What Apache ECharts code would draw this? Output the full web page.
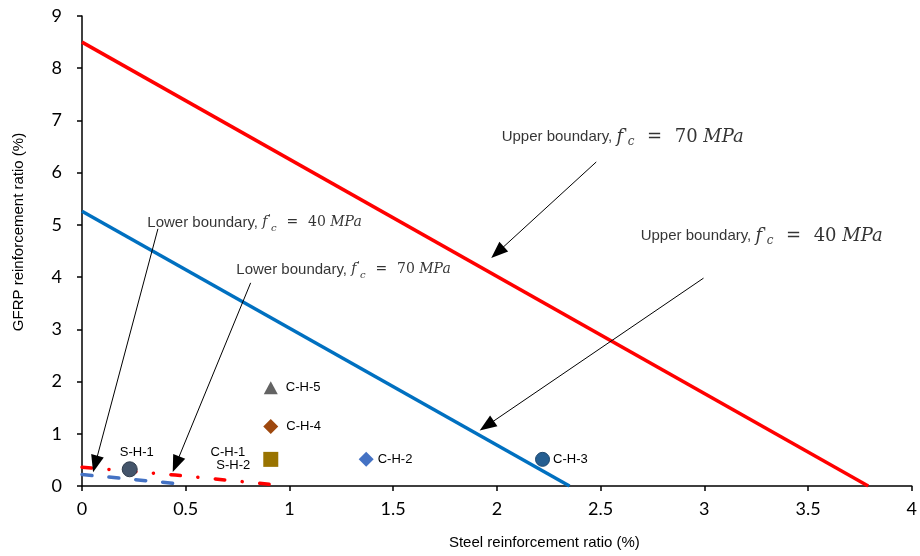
<!DOCTYPE html>
<html><head><meta charset="utf-8">
<script src="https://cdn.jsdelivr.net/npm/echarts@6/dist/echarts.min.js"></script>
<style>html,body{margin:0;padding:0;background:#fff}#c{width:920px;height:556px}</style>
</head><body><div id="c"></div>
<script>
// ---- data ----
const xTicks = [0, 0.5, 1, 1.5, 2, 2.5, 3, 3.5, 4];
const yTicks = [0, 1, 2, 3, 4, 5, 6, 7, 8, 9];
const upper70 = [[0, 8.5], [3.79, 0]];
const upper40 = [[0, 5.26], [2.35, 0]];
const lower70 = [[0, 0.36], [0.45, 0.21], [0.91, 0.03]];
const lower40 = [[0, 0.22], [0.47, 0.04]];
const specimenNames = ['S-H-1', 'C-H-1\nS-H-2', 'C-H-2', 'C-H-3', 'C-H-4', 'C-H-5'];
const specimenX = [0.23, 0.91, 1.37, 2.22, 0.91, 0.91];
const specimenY = [0.32, 0.51, 0.51, 0.51, 1.14, 1.88];
const annoNames = ['Upper boundary, ', 'Upper boundary, ', 'Lower boundary, ', 'Lower boundary, '];
const annoStrength = ['70', '40', '40', '70'];
const annoX = [2.023, 2.693, 0.315, 0.744];
const annoY = [6.68, 4.79, 5.045, 4.14];
const arrowFrom = [[0.366, 4.925], [0.813, 3.89], [2.479, 6.205], [2.996, 3.98]];
const arrowTo = [[0.064, 0.422], [0.453, 0.417], [2.003, 4.474], [1.951, 1.154]];

// ---- styles ----
const markerStyles = [
  {symbol: 'circle', symbolSize: 15, itemStyle: {color: '#44546A', borderColor: '#2E3A4A', borderWidth: 1, opacity: 1}, label: {position: 'top', distance: 2, offset: [7, 0]}},
  {symbol: 'rect', symbolSize: 15, itemStyle: {color: '#997300', opacity: 1}, label: {position: 'left', distance: 13, lineHeight: 13}},
  {symbol: 'diamond', symbolSize: 15, itemStyle: {color: '#4472C4', opacity: 1}, label: {position: 'right', distance: 4}},
  {symbol: 'circle', symbolSize: 14, itemStyle: {color: '#255E91', borderColor: '#1B466D', borderWidth: 1, opacity: 1}, label: {position: 'right', distance: 3}},
  {symbol: 'diamond', symbolSize: 15, itemStyle: {color: '#9E480E', opacity: 1}, label: {position: 'right', distance: 8}},
  {symbol: 'triangle', symbolSize: [14, 13], itemStyle: {color: '#636363', opacity: 1}, label: {position: 'right', distance: 8}}
];

const chart = echarts.init(document.getElementById('c'), null, {renderer: 'canvas'});

const specimenData = specimenNames.map((n, i) => {
  const st = markerStyles[i];
  let fmt = n;
  if (n.indexOf('\n') >= 0) {
    const parts = n.split('\n');
    fmt = '{a|' + parts[0] + '}\n{b|' + parts[1] + '}';
  }
  return {
    value: [specimenX[i], specimenY[i]],
    symbol: st.symbol,
    symbolSize: st.symbolSize,
    itemStyle: st.itemStyle,
    label: Object.assign({show: true, formatter: fmt}, st.label)
  };
});

const annoData = annoNames.map((n, i) => {
  const s = i < 2 ? '' : '2';
  return {
    value: [annoX[i], annoY[i]],
    label: {
      show: true, position: 'right', distance: 0,
      formatter: '{t|' + n + '}{mi' + s + '|f}{pr' + s + '|\'}{sb' + s + '|c}{mn' + s + '|\u2002\u2009=\u2002\u2009' + annoStrength[i] + ' }{mi' + s + '|MPa}'
    }
  };
});

const mathFont = 'DejaVu Serif';
const option = {
  animation: false,
  backgroundColor: '#fff',
  grid: {left: 82, right: 5, top: 16, bottom: 70, containLabel: false},
  xAxis: {
    type: 'value', min: 0, max: 4, interval: 0.5,
    name: 'Steel reinforcement ratio (%)', nameLocation: 'middle', nameGap: 49,
    nameTextStyle: {fontFamily: 'Liberation Sans', fontSize: 15, color: '#000', padding: [0, 0, 0, 95]},
    axisLine: {show: true, onZero: false, lineStyle: {color: '#000', width: 1.5}},
    axisTick: {show: true, inside: false, length: 5, lineStyle: {color: '#000', width: 1.5}},
    axisLabel: {fontFamily: 'Lato', fontSize: 18, color: '#000', margin: 14,
      formatter: v => { const k = xTicks.indexOf(v); return k >= 0 ? String(xTicks[k]) : ''; }},
    splitLine: {show: false}
  },
  yAxis: {
    type: 'value', min: 0, max: 9, interval: 1,
    name: 'GFRP reinforcement ratio (%)', nameLocation: 'middle', nameGap: 56,
    nameTextStyle: {fontFamily: 'Liberation Sans', fontSize: 15, color: '#000', padding: [0, 0, 0, 38]},
    axisLine: {show: true, onZero: false, lineStyle: {color: '#000', width: 1.5}},
    axisTick: {show: true, inside: false, length: 5, lineStyle: {color: '#000', width: 1.5}},
    axisLabel: {fontFamily: 'Lato', fontSize: 18, color: '#000', margin: 20,
      formatter: v => { const k = yTicks.indexOf(v); return k >= 0 ? String(yTicks[k]) : ''; }},
    splitLine: {show: false}
  },
  series: [
    {type: 'line', name: 'Upper 70', data: upper70, showSymbol: false, symbol: 'none', silent: true,
      lineStyle: {color: '#FF0000', width: 3.5}},
    {type: 'line', name: 'Upper 40', data: upper40, showSymbol: false, symbol: 'none', silent: true,
      lineStyle: {color: '#0070C0', width: 3.5}},
    {type: 'line', name: 'Lower 70', data: lower70, showSymbol: false, symbol: 'none', silent: true,
      lineStyle: {color: '#FF0000', width: 3.5, type: [9.5, 17.5, 0.1, 17.5], cap: 'round'}},
    {type: 'line', name: 'Lower 40', data: lower40, showSymbol: false, symbol: 'none', silent: true,
      lineStyle: {color: '#4472C4', width: 3.5, type: [10, 17], cap: 'round'}},
    {type: 'scatter', name: 'Specimens', data: specimenData, silent: true, z: 5,
      itemStyle: {opacity: 1},
      label: {fontFamily: 'Liberation Sans', fontSize: 13, color: '#000',
        rich: {a: {fontFamily: 'Liberation Sans', fontSize: 13, color: '#000', padding: [0, 5, 0, 0], lineHeight: 13},
               b: {fontFamily: 'Liberation Sans', fontSize: 13, color: '#000', lineHeight: 13}}}},
    {type: 'scatter', name: 'Annotations', data: annoData, symbolSize: 0, silent: true, z: 6,
      label: {
        color: '#000',
        rich: {
          t: {fontFamily: 'Liberation Sans', fontSize: 15, color: '#000', lineHeight: 22},
          mi: {fontFamily: mathFont, fontStyle: 'italic', fontSize: 18, color: '#000', lineHeight: 22},
          pr: {fontFamily: mathFont, fontStyle: 'italic', fontSize: 13, color: '#000', verticalAlign: 'top', lineHeight: 22, padding: [2, 0, 0, 1]},
          sb: {fontFamily: mathFont, fontStyle: 'italic', fontSize: 12, color: '#000', verticalAlign: 'bottom', lineHeight: 22},
          mn: {fontFamily: mathFont, fontSize: 18, color: '#000', lineHeight: 22},
          mi2: {fontFamily: mathFont, fontStyle: 'italic', fontSize: 14, color: '#000', lineHeight: 20},
          pr2: {fontFamily: mathFont, fontStyle: 'italic', fontSize: 10, color: '#000', verticalAlign: 'top', lineHeight: 20, padding: [2, 0, 0, 1]},
          sb2: {fontFamily: mathFont, fontStyle: 'italic', fontSize: 10, color: '#000', verticalAlign: 'bottom', lineHeight: 20},
          mn2: {fontFamily: mathFont, fontSize: 14, color: '#000', lineHeight: 20}
        }
      },
      markLine: {
        silent: true, animation: false,
        symbol: ['none', 'triangle'], symbolSize: [13, 17],
        lineStyle: {color: '#000', width: 1, type: 'solid'},
        label: {show: false},
        emphasis: {disabled: true},
        data: arrowFrom.map((f, i) => [{coord: f}, {coord: arrowTo[i]}])
      }
    }
  ]
};
chart.setOption(option);
</script>
</body></html>
